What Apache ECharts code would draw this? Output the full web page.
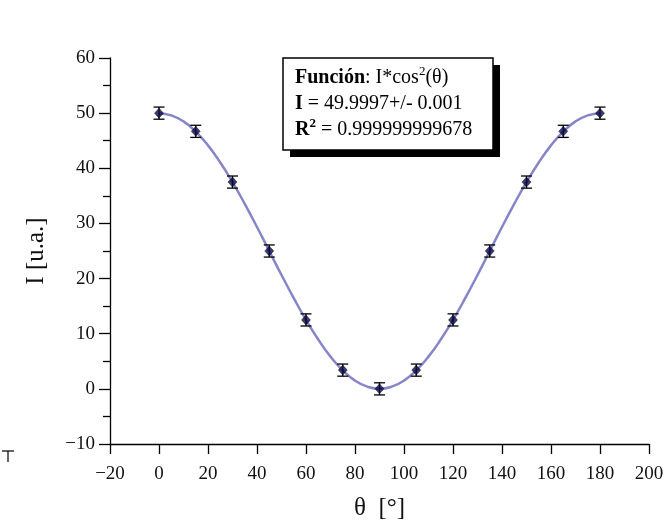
<!DOCTYPE html>
<html><head><meta charset="utf-8">
<script src="https://cdn.jsdelivr.net/npm/echarts@6/dist/echarts.min.js"></script>
<style>html,body{margin:0;padding:0;background:#fff}#c{width:665px;height:525px}</style>
</head><body><div id="c"></div>
<script>
// measured points
const theta = [0, 15, 30, 45, 60, 75, 90, 105, 120, 135, 150, 165, 180];
const intensity = [50, 46.7, 37.5, 25, 12.5, 3.4, 0, 3.4, 12.5, 25, 37.5, 46.7, 50];
const errors = [1.1, 1.1, 1.1, 1.1, 1.1, 1.1, 1.1, 1.1, 1.1, 1.1, 1.1, 1.1, 1.1];
// fit curve, every 5 degrees
const fitTheta = [0,5,10,15,20,25,30,35,40,45,50,55,60,65,70,75,80,85,90,95,100,105,110,115,120,125,130,135,140,145,150,155,160,165,170,175,180];
const fitValues = [50,49.6,48.5,46.65,44.15,41.05,37.5,33.55,29.35,25,20.65,16.45,12.5,8.95,5.85,3.35,1.5,0.4,0,0.4,1.5,3.35,5.85,8.95,12.5,16.45,20.65,25,29.35,33.55,37.5,41.05,44.15,46.65,48.5,49.6,50];
const xTicks = [-20, 0, 20, 40, 60, 80, 100, 120, 140, 160, 180, 200];
const yTicks = [-10, 0, 10, 20, 30, 40, 50, 60];

const font = '"Liberation Serif", "DejaVu Serif", serif';
const chart = echarts.init(document.getElementById('c'));
const pts = theta.map((t, i) => [t, intensity[i]]);
const errData = theta.map((t, i) => [t, intensity[i] - errors[i], intensity[i] + errors[i]]);
const fit = fitTheta.map((t, i) => [t, fitValues[i]]);
const fmt = v => (v < 0 ? '\u2212' + (-v) : '' + v);

chart.setOption({
  animation: false,
  grid: {left: 110, right: 16, top: 58, bottom: 81, outerBoundsMode: 'none', containLabel: false},
  xAxis: {
    type: 'value', min: xTicks[0], max: xTicks[xTicks.length - 1], interval: 20,
    name: 'θ  [°]', nameLocation: 'middle', nameGap: 52,
    nameTextStyle: {fontFamily: font, fontSize: 25, color: '#111'},
    axisLine: {onZero: false, lineStyle: {color: '#000', width: 1.3}},
    axisTick: {length: 10, lineStyle: {color: '#000', width: 1.3}},
    axisLabel: {fontFamily: font, fontSize: 19, color: '#111', margin: 21, formatter: fmt},
    splitLine: {show: false}
  },
  yAxis: {
    type: 'value', min: yTicks[0], max: yTicks[yTicks.length - 1], interval: 10,
    name: 'I [u.a.]', nameLocation: 'middle', nameGap: 61, nameRotate: 90,
    nameTextStyle: {fontFamily: font, fontSize: 25, color: '#111'},
    axisLine: {onZero: false, lineStyle: {color: '#000', width: 1.3}},
    axisTick: {length: 11, lineStyle: {color: '#000', width: 1.3}},
    minorTick: {show: true, splitNumber: 2, length: 7, lineStyle: {color: '#000', width: 1.3}},
    axisLabel: {fontFamily: font, fontSize: 19, color: '#111', margin: 15, formatter: fmt},
    splitLine: {show: false}
  },
  series: [
    {
      type: 'line', data: fit, smooth: true, showSymbol: false, z: 1,
      lineStyle: {color: '#8585c8', width: 2.5}
    },
    {
      type: 'custom', z: 3,
      renderItem: (params, api) => {
        const x = api.value(0);
        const lo = api.coord([x, api.value(1)]);
        const hi = api.coord([x, api.value(2)]);
        const hw = 5.5;
        const st = {stroke: '#000', lineWidth: 1.3};
        return {type: 'group', children: [
          {type: 'line', shape: {x1: lo[0], y1: lo[1], x2: hi[0], y2: hi[1]}, style: st},
          {type: 'line', shape: {x1: lo[0]-hw, y1: lo[1], x2: lo[0]+hw, y2: lo[1]}, style: st},
          {type: 'line', shape: {x1: hi[0]-hw, y1: hi[1], x2: hi[0]+hw, y2: hi[1]}, style: st}
        ]};
      },
      encode: {x: 0, y: [1, 2]},
      data: errData
    },
    {
      type: 'scatter', data: pts, symbol: 'diamond', symbolSize: [9, 10], z: 4,
      itemStyle: {color: '#0a0a48', borderColor: '#000', borderWidth: 0.5}
    }
  ],
  graphic: [
    {type: 'rect', shape: {x: 290, y: 65, width: 210, height: 92}, style: {fill: '#000'}, z: 10},
    {type: 'rect', shape: {x: 283, y: 58, width: 210, height: 92}, style: {fill: '#fff', stroke: '#000', lineWidth: 1.5}, z: 11},
    {type: 'text', x: 295, y: 65, z: 12, style: {
      text: '{b|Función}{n|: I*cos}{s|2}{n|(θ)}\n{b|I}{n| = 49.9997+/- 0.001}\n{b|R}{sb|2}{n| = 0.999999999678}',
      lineHeight: 26,
      rich: {
        b: {fontFamily: font, fontSize: 20, fontWeight: 'bold', fill: '#000', lineHeight: 26},
        n: {fontFamily: font, fontSize: 20, fill: '#000', lineHeight: 26},
        s: {fontFamily: font, fontSize: 13, fill: '#000', verticalAlign: 'top', lineHeight: 26, padding: [0,0,9,0]},
        sb: {fontFamily: font, fontSize: 13, fontWeight: 'bold', fill: '#000', verticalAlign: 'top', lineHeight: 26, padding: [0,0,9,0]}
      }
    }},
    {type: 'line', shape: {x1: 2, y1: 451, x2: 14, y2: 451}, style: {stroke: '#000', lineWidth: 1.2}},
    {type: 'line', shape: {x1: 8, y1: 451, x2: 8, y2: 462}, style: {stroke: '#000', lineWidth: 1.2}}
  ]
});
</script></body></html>
